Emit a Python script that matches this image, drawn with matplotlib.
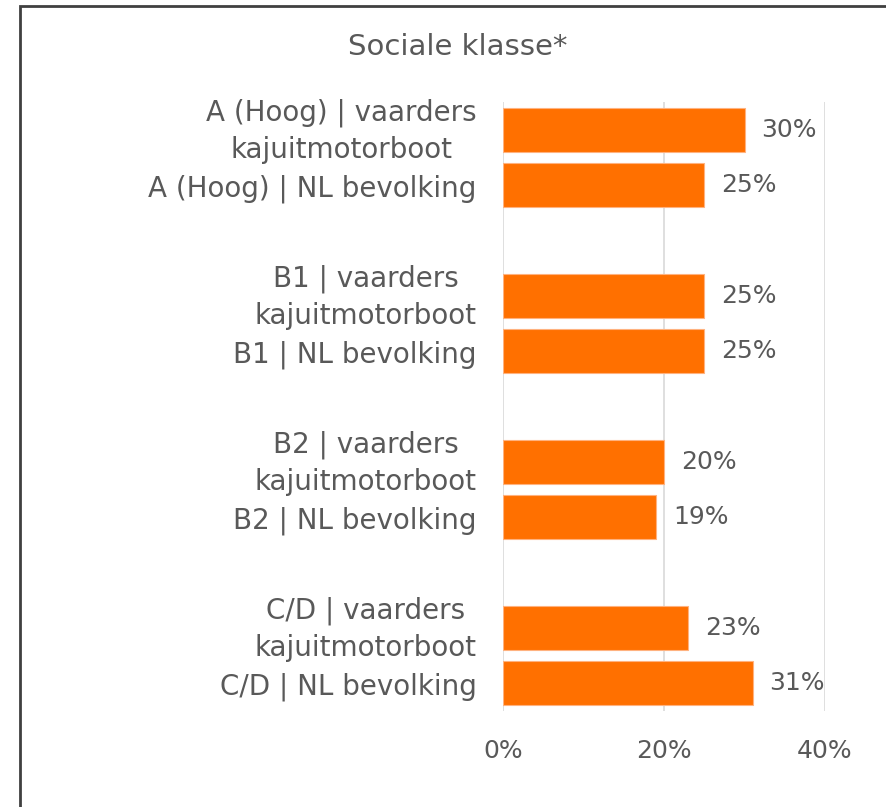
import matplotlib
matplotlib.use('Agg')
import matplotlib.pyplot as plt
from matplotlib.patches import Rectangle
from matplotlib.transforms import ScaledTranslation

labels = ['A (Hoog) | vaarders\nkajuitmotorboot', 'A (Hoog) | NL bevolking',
          'B1 | vaarders\nkajuitmotorboot', 'B1 | NL bevolking',
          'B2 | vaarders\nkajuitmotorboot', 'B2 | NL bevolking',
          'C/D | vaarders\nkajuitmotorboot', 'C/D | NL bevolking']
values = [30, 25, 25, 25, 20, 19, 23, 31]
slots = [0, 1, 3, 4, 6, 7, 9, 10]

orange = '#FF7000'
grey = '#595959'
plt.rcParams['font.family'] = ['DejaVu Sans']

fig = plt.figure(figsize=(8.86, 8.07), dpi=100)
ax = fig.add_axes([503/886, 1 - 711/807, (825-503)/886, (711-102)/807])

ax.barh(slots, values, height=0.8, color=orange, edgecolor='#FFB27F', linewidth=0.8, zorder=3)
for s, v in zip(slots, values):
    ax.text(v + 2.1, s, f'{v}%', va='center', ha='left', fontsize=18, color=grey)

ax.set_xlim(0, 40)
ax.set_ylim(10.5, -0.5)
ax.set_xticks([0, 20, 40])
ax.set_xticklabels(['0%', '20%', '40%'])
ax.set_yticks(slots)
ax.set_yticklabels(labels)
ax.tick_params(axis='x', length=0, pad=20, labelsize=18, labelcolor=grey)
ax.tick_params(axis='y', length=0, pad=19, labelsize=20, labelcolor=grey)
# nudge the two-line labels up a bit so they sit centred on the bar
shift = ScaledTranslation(0, 6/100, fig.dpi_scale_trans)
for t in ax.get_yticklabels():
    t.set_multialignment('center')
    t.set_linespacing(1.4)
    if '\n' in t.get_text():
        t.set_transform(t.get_transform() + shift)
ax.grid(axis='x', color='#D9D9D9', linewidth=1.2, zorder=0)
for sp in ax.spines.values():
    sp.set_visible(False)

fig.text(458/886, 1 - 47/807, 'Sociale klasse*', ha='center', va='center', fontsize=21, color=grey)

fig.patches.append(Rectangle((19.5/886, -0.05), 1.0, 1 - 6/807 + 0.05, transform=fig.transFigure,
                             fill=False, edgecolor='#404040', linewidth=2))

fig.savefig('out.png', dpi=100)
